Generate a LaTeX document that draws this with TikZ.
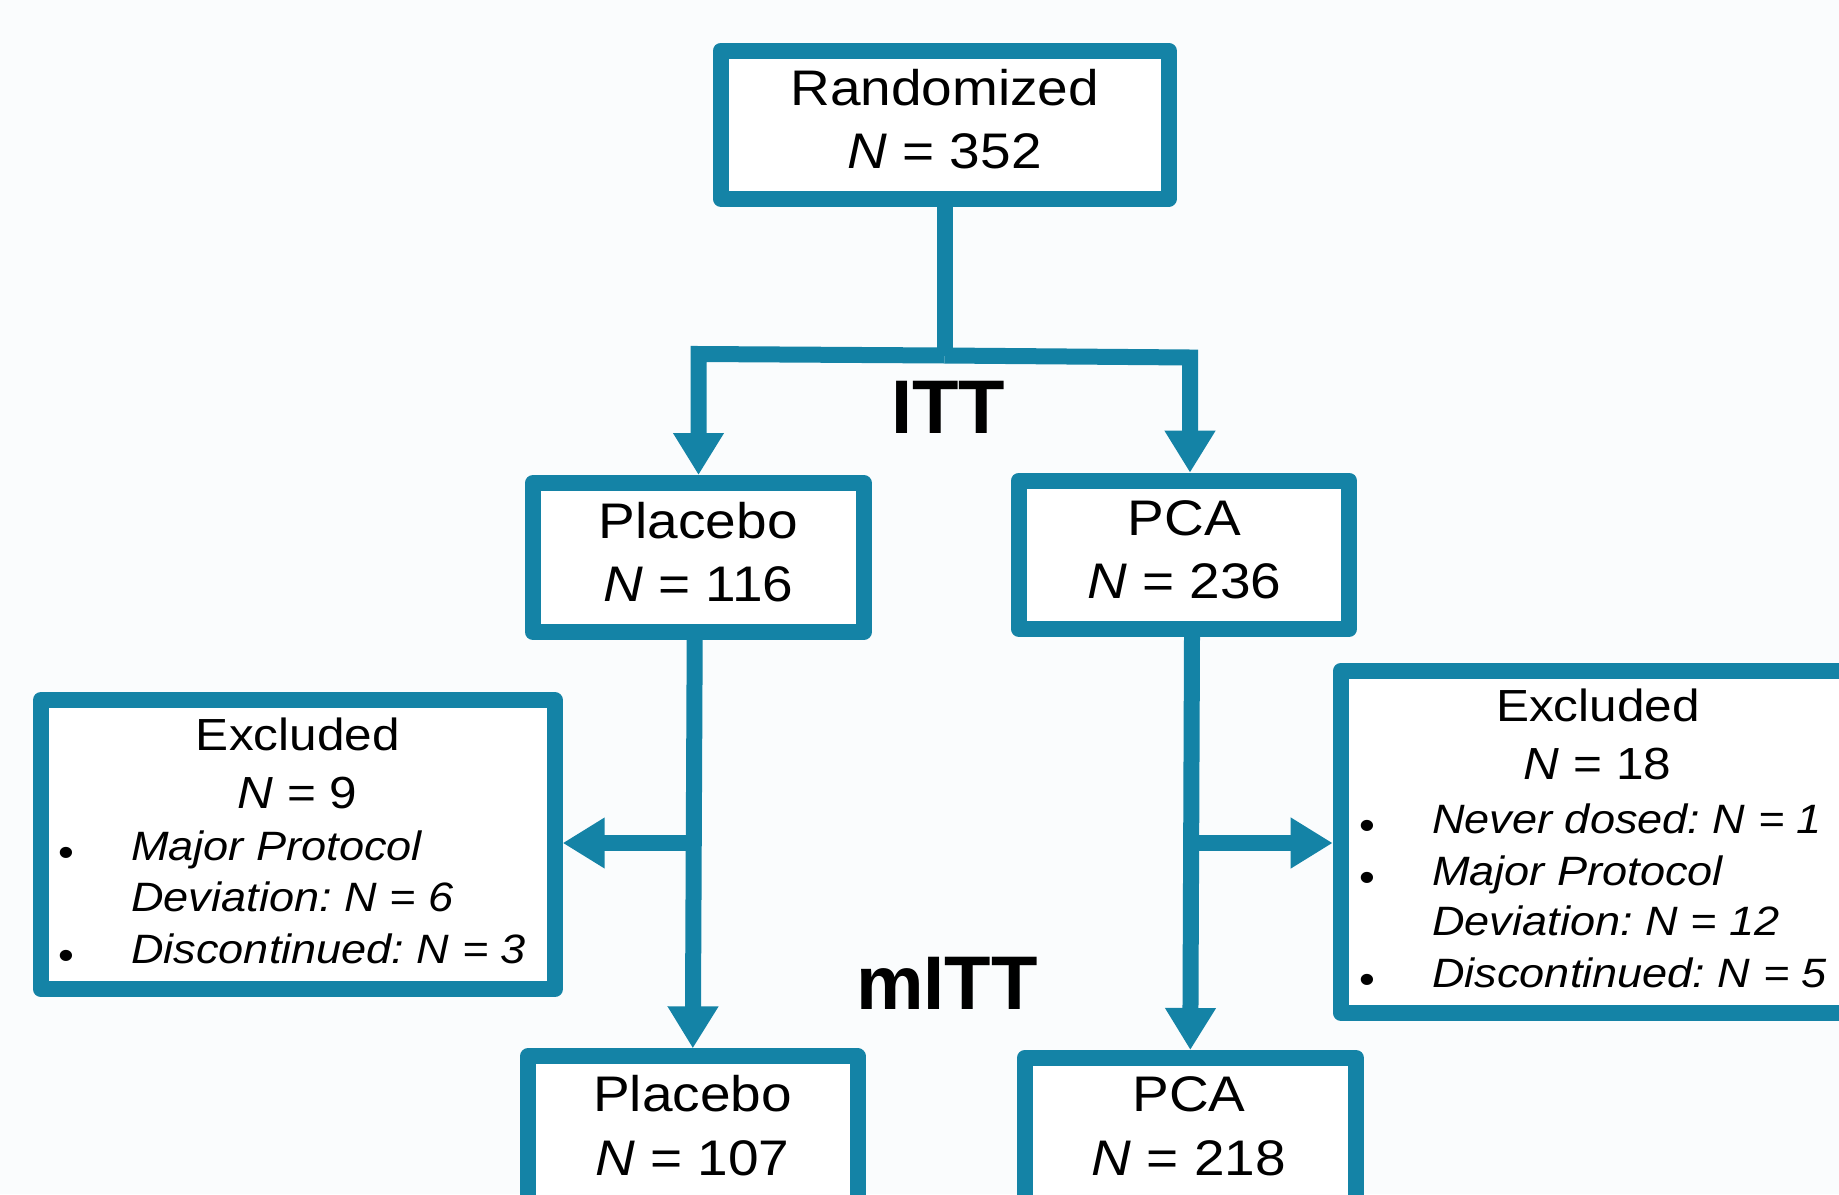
\documentclass[tikz,border=0pt]{standalone}
\usepackage{fontspec}
\setmainfont{Liberation Sans}[FakeStretch=1.1]
\newfontfamily\labelfont{Liberation Sans}
\usetikzlibrary{arrows.meta}
\definecolor{flowblue}{RGB}{20,131,166}
\definecolor{bgc}{RGB}{250,252,253}
\frenchspacing
\begin{document}
\begin{tikzpicture}[x=1pt,y=-1pt,
  box/.style={draw=flowblue, line width=16pt, fill=white, line join=round, rectangle, inner sep=0pt, outer sep=8pt},
  conn/.style={draw=flowblue, line width=16pt, line join=miter},
  arr/.style={conn, -{Triangle[length=42pt,width=48pt]}},
  big/.style={anchor=base, inner sep=0pt, font=\fontsize{50}{60}\selectfont},
  mid/.style={anchor=base, inner sep=0pt, font=\fontsize{45}{54}\selectfont},
  item/.style={anchor=base west, inner sep=0pt, font=\fontsize{41}{50}\selectfont\itshape},
  dot/.style={anchor=base, inner sep=0pt, font=\fontsize{41}{50}\selectfont},
  phase/.style={anchor=base, inner sep=0pt, font=\labelfont\bfseries\fontsize{76}{90}\selectfont}]
\useasboundingbox (0,0) rectangle (1839,1194);
\clip (0,0) rectangle (1839,1194);
\fill[bgc] (0,0) rectangle (1839,1194);

% boxes
\node[box, minimum width=448pt, minimum height=148pt] (rand) at (944.7,124.7) {};
\node[big] (randA) at (944.7,105) {Randomized};
\node[big] (randB) at (944.7,168) {\textit{N} = 352};

\node[box, minimum width=330.7pt, minimum height=149pt] (plac1) at (698.3,557.5) {};
\node[big] (plac1A) at (698.3,538.3) {Placebo};
\node[big] (plac1B) at (698.3,601.7) {\textit{N} = 116};

\node[box, minimum width=330.6pt, minimum height=148pt] (pca1) at (1184,554.7) {};
\node[big] (pca1A) at (1184.2,535) {PCA};
\node[big] (pca1B) at (1184.2,598.3) {\textit{N} = 236};

\node[box, minimum width=329.7pt, minimum height=148.7pt] (plac2) at (692.8,1130.7) {};
\node[big] (plac2A) at (692.5,1111) {Placebo};
\node[big] (plac2B) at (692.5,1175) {\textit{N} = 107};

\node[box, minimum width=331.4pt, minimum height=149pt] (pca2) at (1190.3,1132.5) {};
\node[big] (pca2A) at (1189,1111.7) {PCA};
\node[big] (pca2B) at (1189,1175) {\textit{N} = 218};

\node[box, minimum width=513.7pt, minimum height=289.3pt] (exc1) at (297.85,844.65) {};
\node[mid] (exc1A) at (297.8,750.7) {Excluded};
\node[mid] (exc1B) at (297.5,808) {\textit{N} = 9};
\node[dot] (exc1d1) at (66.6,866) {•};
\node[item] (exc1C) at (131,860) {Major Protocol};
\node[item] (exc1D) at (131,911.7) {Deviation: N = 6};
\node[dot] (exc1d2) at (66.6,969) {•};
\node[item] (exc1E) at (131,963) {Discontinued: N = 3};

\node[box, minimum width=514.3pt, minimum height=341.7pt] (exc2) at (1597.85,841.85) {};
\node[mid] (exc2A) at (1597.8,721.7) {Excluded};
\node[mid] (exc2B) at (1597.5,779) {\textit{N} = 18};
\node[dot] (exc2d1) at (1367.5,839) {•};
\node[item] (exc2C) at (1432,833) {Never dosed: N = 1};
\node[dot] (exc2d2) at (1367.5,891) {•};
\node[item] (exc2D) at (1432,885) {Major Protocol};
\node[item] (exc2E) at (1432,935) {Deviation: N = 12};
\node[dot] (exc2d3) at (1367.5,993) {•};
\node[item] (exc2F) at (1432,987) {Discontinued: N = 5};

% phase labels
\node[phase] (itt) at (948.3,433.3) {ITT};
\node[phase] (mitt) at (947,1009.3) {mITT};

% connectors
\coordinate (j1) at (944.7,355.5);
\coordinate (cL) at (698.5,354);
\coordinate (cR) at (1190,357.5);
\draw[conn] (rand.south) -- (j1);
\draw[arr] (j1) -- (cL) -- (cL |- plac1.north);
\draw[arr] (j1) -- (cR) -- (cR |- pca1.north);

\coordinate (bL) at (693.3,843);
\coordinate (bR) at (1191.3,843);
\draw[arr] ([xshift=-3.6pt]plac1.south) -- (plac2.north);
\draw[arr] (bL) -- (bL -| exc1.east);
\draw[arr] ([xshift=8pt]pca1.south) -- (pca2.north);
\draw[arr] (bR) -- (bR -| exc2.west);
\end{tikzpicture}
\end{document}
